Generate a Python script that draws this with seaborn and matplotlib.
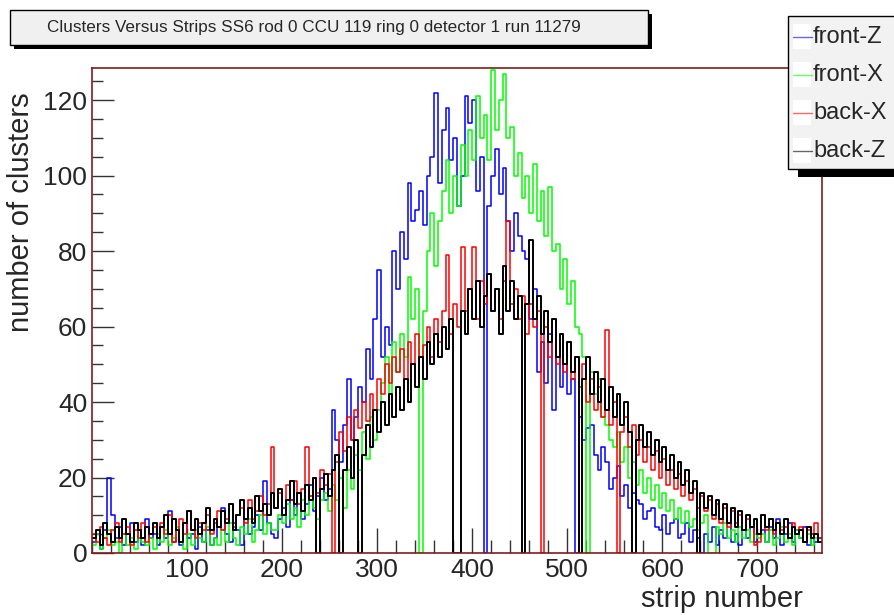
import numpy as np
import pandas as pd
import matplotlib
matplotlib.use("Agg")
import matplotlib.pyplot as plt
import seaborn as sns
from matplotlib.patches import Rectangle
from matplotlib.lines import Line2D
from matplotlib.ticker import MultipleLocator

# clusters per strip in bins of 4 strips (768 strips -> 192 bins)
bin_width = 4
n_strips = 768

front_z = [
    3, 5, 1, 6, 20, 10, 4, 7, 2, 5, 8, 3, 6, 2, 9, 4,
    5, 2, 7, 4, 11, 3, 6, 2, 8, 4, 5, 1, 7, 3, 6, 2,
    4, 7, 12, 5, 3, 8, 6, 2, 9, 5, 7, 10, 6, 19, 8, 5,
    4, 9, 12, 7, 14, 10, 16, 9, 13, 18, 11, 15, 20, 14, 17, 38,
    30, 24, 34, 46, 30, 36, 44, 40, 54, 46, 62, 75, 52, 60, 55, 80,
    70, 85, 78, 98, 88, 91, 96, 87, 100, 105, 122, 98, 112, 118, 104, 110,
    92, 100, 121, 114, 120, 96, 105, 0, 92, 100, 107, 95, 102, 88, 80, 90,
    84, 80, 78, 62, 70, 48, 56, 45, 58, 38, 52, 44, 50, 42, 46, 0,
    36, 30, 33, 34, 26, 22, 28, 24, 17, 20, 23, 15, 18, 12, 16, 14,
    13, 9, 11, 12, 7, 6, 10, 5, 8, 9, 4, 5, 8, 3, 6, 4,
    0, 5, 3, 7, 2, 6, 4, 8, 3, 5, 2, 6, 4, 7, 3, 5,
    6, 3, 7, 4, 9, 2, 5, 8, 3, 6, 4, 7, 2, 5, 3, 4,
]
front_x = [
    2, 5, 1, 4, 6, 2, 3, 0, 5, 2, 4, 1, 6, 3, 2, 4,
    1, 5, 3, 6, 2, 4, 7, 3, 1, 5, 2, 6, 4, 3, 7, 2,
    4, 2, 6, 3, 8, 4, 2, 7, 5, 9, 3, 6, 10, 5, 8, 6,
    6, 10, 8, 13, 9, 12, 7, 14, 10, 15, 12, 9, 14, 16, 11, 18,
    14, 20, 12, 22, 17, 26, 22, 32, 25, 36, 30, 38, 45, 52, 42, 56,
    48, 58, 52, 73, 62, 70, 0, 64, 80, 90, 76, 88, 96, 104, 90, 100,
    92, 108, 100, 112, 104, 121, 110, 116, 104, 128, 112, 120, 127, 110, 113, 100,
    106, 94, 100, 90, 103, 88, 96, 84, 97, 80, 82, 70, 78, 66, 72, 60,
    58, 52, 0, 48, 42, 46, 36, 34, 30, 28, 32, 24, 28, 20, 24, 18,
    22, 16, 20, 14, 18, 12, 16, 11, 14, 9, 12, 8, 11, 7, 9, 6,
    8, 10, 0, 0, 7, 5, 8, 4, 6, 3, 7, 4, 6, 3, 5, 4,
    5, 3, 6, 2, 4, 7, 3, 5, 2, 6, 4, 3, 5, 2, 4, 3,
]
back_x = [
    5, 3, 7, 4, 2, 6, 8, 3, 5, 7, 2, 6, 4, 8, 3, 5,
    7, 4, 8, 5, 10, 3, 6, 9, 5, 11, 6, 4, 8, 6, 10, 5,
    8, 11, 6, 9, 13, 7, 10, 12, 8, 14, 9, 11, 15, 10, 13, 28,
    12, 16, 10, 18, 14, 19, 13, 17, 28, 15, 20, 16, 22, 18, 21, 0,
    24, 32, 27, 36, 30, 38, 33, 40, 35, 42, 38, 46, 42, 50, 45, 52,
    48, 54, 46, 56, 50, 58, 52, 55, 60, 52, 62, 56, 64, 79, 58, 66,
    60, 81, 64, 70, 81, 62, 72, 66, 74, 64, 70, 62, 72, 88, 66, 70,
    62, 68, 58, 66, 60, 64, 0, 60, 52, 62, 50, 58, 48, 56, 46, 52,
    44, 50, 40, 46, 38, 44, 36, 59, 34, 40, 0, 32, 36, 28, 34, 26,
    30, 24, 28, 22, 27, 20, 25, 18, 22, 17, 21, 15, 19, 14, 17, 12,
    15, 11, 14, 9, 13, 8, 12, 7, 11, 8, 10, 6, 9, 7, 2, 3,
    10, 6, 9, 5, 8, 6, 7, 4, 8, 5, 7, 3, 6, 5, 8, 4,
]
back_z = [
    4, 6, 2, 8, 5, 3, 7, 4, 9, 5, 3, 8, 6, 4, 7, 5,
    8, 4, 7, 10, 5, 9, 6, 3, 8, 11, 6, 9, 5, 8, 12, 6,
    9, 7, 11, 8, 13, 6, 10, 14, 9, 12, 8, 15, 11, 13, 10, 16,
    12, 17, 10, 14, 19, 13, 16, 11, 18, 14, 20, 0, 17, 21, 15, 22,
    26, 0, 22, 28, 20, 30, 0, 26, 34, 28, 38, 32, 40, 34, 42, 36,
    44, 38, 46, 40, 50, 44, 52, 46, 56, 50, 58, 52, 60, 54, 62, 0,
    0, 64, 58, 70, 62, 72, 60, 68, 74, 64, 70, 58, 76, 64, 72, 62,
    68, 0, 66, 83, 62, 68, 58, 64, 56, 62, 52, 58, 50, 56, 48, 52,
    0, 46, 52, 42, 48, 40, 46, 38, 44, 36, 42, 34, 40, 32, 0, 30,
    34, 28, 32, 26, 30, 24, 28, 22, 26, 20, 24, 18, 22, 16, 19, 0,
    16, 12, 15, 10, 14, 9, 13, 8, 12, 7, 11, 6, 10, 7, 9, 5,
    10, 7, 9, 6, 8, 5, 9, 4, 7, 5, 6, 3, 7, 4, 5, 3,
]

series_names = ["front-Z", "front-X", "back-X", "back-Z"]
series_colors = ["#0000ff", "#00ff00", "#ff0000", "#000000"]
xtick_values = [100, 200, 300, 400, 500, 600, 700]
ytick_values = [0, 20, 40, 60, 80, 100, 120]
title_text = "Clusters Versus Strips SS6 rod 0 CCU 119 ring 0 detector 1 run 11279"

sns.set_style("ticks")
plt.rcParams["font.family"] = ["Liberation Sans", "DejaVu Sans"]

W, H = 895, 615
fig = plt.figure(figsize=(W / 100, H / 100), dpi=100)
fig.patch.set_facecolor("white")
ax = fig.add_axes([92 / W, 1 - 553 / H, 730 / W, 485 / H])

centers = np.arange(bin_width / 2, n_strips, bin_width)
df = pd.DataFrame({
    "strip": np.tile(centers, 4),
    "clusters": np.concatenate([front_z, front_x, back_x, back_z]).astype(float),
    "layer": np.repeat(series_names, len(centers)),
})

for name, color in zip(series_names, series_colors):
    sub = df[df["layer"] == name]
    sns.histplot(data=sub, x="strip", weights="clusters",
                 binwidth=bin_width, binrange=(0, n_strips),
                 element="step", fill=False, color=color,
                 linewidth=1.4 if name == "back-Z" else 1.1, ax=ax)

ax.set_xlim(0, n_strips)
ax.set_ylim(0, 128.5)
ax.set_xlabel("")
ax.set_ylabel("")
ax.set_xticks(xtick_values)
ax.set_yticks(ytick_values)
ax.xaxis.set_minor_locator(MultipleLocator(20))
ax.yaxis.set_minor_locator(MultipleLocator(5))
ax.tick_params(axis="x", which="major", direction="in", length=18, width=1,
               color="#333333", labelsize=19, pad=3.5)
ax.tick_params(axis="x", which="minor", direction="in", length=9.5, width=1,
               color="#333333")
ax.tick_params(axis="y", which="major", direction="in", length=15.8, width=1,
               color="#333333", labelsize=19, pad=3.5)
ax.tick_params(axis="y", which="minor", direction="in", length=8, width=1,
               color="#333333")
for sp in ax.spines.values():
    sp.set_visible(True)
    sp.set_color("#7f1d1d")
    sp.set_linewidth(1.2)

fig.text(21 / W, 1 - 92 / H, "number of clusters", rotation=90,
         ha="center", va="top", fontsize=21)
fig.text(803 / W, 1 - 607 / H, "strip number", ha="right", va="baseline",
         fontsize=21)


def px_rect(x0, y0, x1, y1, **kw):
    return Rectangle((x0 / W, 1 - y1 / H), (x1 - x0) / W, (y1 - y0) / H,
                     transform=fig.transFigure, **kw)


# title box with shadow
fig.patches.append(px_rect(14, 14, 652, 49, facecolor="black", edgecolor="none", zorder=5))
fig.patches.append(px_rect(10, 10, 648, 45, facecolor="#f0f0f0", edgecolor="black",
                           linewidth=1, zorder=6))
fig.text(47 / W, 1 - 27.5 / H, title_text, ha="left", va="center", fontsize=12.3, zorder=7)

# legend box with shadow
fig.patches.append(px_rect(798, 24, 905, 177, facecolor="black", edgecolor="none", zorder=5))
fig.patches.append(px_rect(788, 16, 905, 169, facecolor="#f2f2f2", edgecolor="black",
                           linewidth=1, zorder=6))
for i, (name, color) in enumerate(zip(series_names, series_colors)):
    yc = 37 + 38 * i
    fig.patches.append(px_rect(793, yc - 13, 811, yc + 12, facecolor="white",
                               edgecolor="none", zorder=7))
    fig.lines.append(Line2D([793 / W, 812 / W], [1 - yc / H, 1 - yc / H],
                            transform=fig.transFigure, color=color, alpha=0.6,
                            linewidth=1, zorder=8))
    fig.text(813 / W, 1 - yc / H, name, ha="left", va="center", fontsize=17, zorder=8)

fig.savefig("out.png", dpi=100)
